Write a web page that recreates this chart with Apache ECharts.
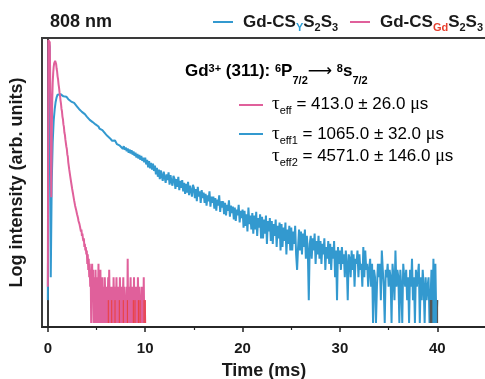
<!DOCTYPE html>
<html><head><meta charset="utf-8">
<script src="https://cdn.jsdelivr.net/npm/echarts@6/dist/echarts.min.js"></script>
<style>html,body{margin:0;padding:0;background:#fff}#c{width:485px;height:379px}</style>
</head><body><div id="c"></div>
<script>
const titleText = '808 nm';
const xTickValues = [0, 10, 20, 30, 40];
const xMinorTickValues = [5, 15, 25, 35];
const seriesNames = ['Gd-CSYS2S3', 'Gd-CSGdS2S3'];

// blue: Gd-CS_Y S2S3, bins of 0.1 ms from 0 ms
const blueStart = 0, blueStep = 0.1;
const blueCounts = [
2,4800,4300,4,70,240,460,640,810,930,
1010,1060,1045,1025,990,1010,960,975,935,950,
905,880,850,870,820,800,815,785,760,775,
705,690,655,645,620,600,610,575,560,545,
520,505,490,470,478,450,440,428,445,410,
400,395,385,362,378,350,345,330,340,310,
310,290,300,275,268,278,250,265,240,252,
242,225,218,238,215,205,220,196,212,190,
204,182,198,174,192,170,188,164,180,158,
174,150,168,146,162,140,158,136,150,130,
150,122,140,112,135,108,128,104,125,100,
118,90,110,84,104,78,102,86,74,98,
94,70,90,76,96,66,88,72,64,86,
80,58,78,62,84,56,74,60,76,54,
70,50,68,52,72,48,64,55,46,66,
60,44,58,40,62,46,54,38,56,44,
52,38,50,35,48,40,54,34,46,38,
46,32,44,30,42,35,48,29,40,33,
40,27,38,26,36,30,41,25,35,28,
34,23,33,22,31,26,36,21,30,24,
31,18,30,19,27,16,33,20,26,17,
28,15,26,17,29,14,24,18,27,13,
25,13,23,15,26,11,22,16,24,12,
22,11,20,14,23,10,19,13,21,9,
20,10,18,12,21,8,17,11,19,9,
18,9,16,11,19,8,5,10,17,9,
16,8,15,10,17,7,14,9,2,11,
14,7,13,9,15,6,12,8,14,7,
12,6,11,8,13,5,10,7,12,6,
11,5,10,7,12,4,9,2,10,6,
9,5,10,6,8,4,9,6,2,8,
7,4,9,5,8,3,7,6,9,4,
8,5,6,3,10,4,9,5,6,3,
5,7,3,6,1,5,4,1,3,6,
4,6,2,9,5,3,1,5,4,6,
3,5,4,1,6,4,2,9,3,5,
4,1,5,3,1,6,4,3,5,2,
4,1,5,3,7,2,4,1,5,3,
3,6,1,4,2,5,3,1,4,2,
3,4,1,2,5,1,7,1,6,1,
2
];

// pink: Gd-CS_Gd S2S3, bins of 0.05 ms from 0 ms
const pinkStart = 0, pinkStep = 0.05;
const pinkCounts = [
3,5300,5250,5050,4950,4800,350,45,280,850,
1450,1950,2350,2600,2720,2820,2780,2560,2230,2040,
1760,1600,1380,1250,1080,980,850,770,660,610,
520,480,410,380,320,300,260,245,210,195,
165,155,130,124,104,100,85,82,70,68,
58,56,49,47,41,40,35,36,31,30,
27,26,24,22,23,20,19,20,16,17,
14,15,13,12,13,10,11,9,10,8,
9,6,8,5,7,4,6,3,5,1,
4,6,2,5,1,3,4,1,5,2,
3,1,4,2,6,1,3,2,5,1,
3,2,4,1,3,2,1,4,2,3,
1,3,1,2,4,1,5,2,1,3,
2,1,3,2,1,4,2,1,3,1,
2,4,1,2,3,1,2,1,4,2,
1,3,2,1,2,4,1,3,1,2,
1,2,3,1,7,1,2,3,1,2,
4,1,2,1,3,2,1,4,1,2,
1,3,1,2,1,4,2,1,3,1,
2,1,2,3,1,2,1,4,1,2,
1
];

// thin extra traces visible at the noise floor
const redLineTimes = [6.21, 6.56, 6.9, 7.34, 7.75, 8.17, 8.78, 8.95, 9.3, 9.47, 9.88, 10.0];
const redLineCounts = [2, 1];
const grayLineTimes = [39.28, 39.33, 39.38, 39.43, 40.02];
const grayLineCounts = [2, 1];

const BLUE = '#3399cf', PINK = '#e0609b', RED = '#ea3f3a', GRAY = '#555555';
const FONT = '"Liberation Sans", Arial, Helvetica, sans-serif';
const SERIF = '"Liberation Serif", "Times New Roman", serif';
const INK = '#1a1a1a';

function binSeries(start, step, counts) {
  return counts.map((c, i) => [+(start + i * step).toFixed(3), c]);
}
function vLines(times, counts) {
  const d = [];
  times.forEach(t => { d.push([t, counts[0]]); d.push([t, counts[1]]); d.push([t, '-']); });
  return d;
}

const chart = echarts.init(document.getElementById('c'), null, {renderer: 'canvas'});

// small scripts: verticalAlign top + padding-top sets their centre = lineTop + pad + 5.5
function small(pad, color, bold) {
  return {fontSize: 11, fontWeight: bold ? 'bold' : 'normal', fontFamily: FONT, color: color || INK,
    lineHeight: 10, verticalAlign: 'top', padding: [pad, 0, 0, 0]};
}

const legRich = {
  f: {fontSize: 17, fontWeight: 'bold', fontFamily: FONT, color: INK, lineHeight: 30, padding: [0, 0, 0, 5]},
  m: {fontSize: 17, fontWeight: 'bold', fontFamily: FONT, color: INK, lineHeight: 30},
  s: small(15, INK, true),
  y: small(15, '#2a9fd8', true),
  g: small(15, '#e8402f', true)
};
const legLabels = {
  'Gd-CSYS2S3': '{f|Gd-CS}{y|Y}{m|S}{s|2}{m|S}{s|3}',
  'Gd-CSGdS2S3': '{f|Gd-CS}{g|Gd}{m|S}{s|2}{m|S}{s|3}'
};

const gdRich = {
  b: {fontSize: 17, fontWeight: 'bold', fontFamily: FONT, color: INK, lineHeight: 30},
  sup: small(7, INK, true),
  sub: small(19.5, INK, true),
  ar: {fontSize: 17, fontFamily: '"DejaVu Sans", sans-serif', color: INK, lineHeight: 30}
};
const tauRich = {
  t: {fontSize: 19, fontFamily: SERIF, color: INK, lineHeight: 30},
  e: small(16.5, INK, false),
  r: {fontSize: 17, fontFamily: FONT, color: INK, lineHeight: 30},
  mu: {fontSize: 18, fontFamily: SERIF, color: INK, lineHeight: 30}
};

const legendBase = {
  top: 7, padding: 0, itemWidth: 20, itemHeight: 2, icon: 'rect',
  formatter: n => legLabels[n],
  textStyle: {rich: legRich}, selectedMode: false
};

chart.setOption({
  animation: false,
  backgroundColor: '#fff',
  title: {text: titleText, left: 50, top: 13, padding: 0,
    textStyle: {fontSize: 18, fontWeight: 'bold', fontFamily: FONT, color: INK}},
  legend: [
    Object.assign({}, legendBase, {left: 213, data: [seriesNames[0]]}),
    Object.assign({}, legendBase, {left: 350, data: [seriesNames[1]]})
  ],
  grid: {left: 42, top: 38, width: 444, height: 289, show: true, borderColor: '#3a3a3a', borderWidth: 2,
    containLabel: false, outerBoundsMode: 'none'},
  xAxis: [{
    type: 'value', min: -0.6, max: 45, position: 'bottom',
    axisLine: {show: true, lineStyle: {color: '#222', width: 1.5}},
    axisTick: {show: true, customValues: xTickValues, length: 5, lineStyle: {color: '#222', width: 1.5}},
    axisLabel: {show: true, customValues: xTickValues, fontSize: 15, fontWeight: 'bold', fontFamily: FONT, color: INK, margin: 14},
    splitLine: {show: false},
    name: 'Time (ms)', nameLocation: 'middle', nameGap: 35,
    nameTextStyle: {fontSize: 18, fontWeight: 'bold', fontFamily: FONT, color: INK}
  }, {
    type: 'value', min: -0.6, max: 45, position: 'bottom',
    axisLine: {show: false},
    axisTick: {show: true, customValues: xMinorTickValues, length: 3, lineStyle: {color: '#222', width: 1.2}},
    axisLabel: {show: false},
    splitLine: {show: false}
  }],
  yAxis: {
    type: 'log', logBase: 10, min: 0.886, max: 5620,
    axisLine: {show: true, lineStyle: {color: '#3a3a3a', width: 2}},
    axisTick: {show: false}, axisLabel: {show: false}, splitLine: {show: false}, minorTick: {show: false},
    name: 'Log intensity (arb. units)', nameLocation: 'middle', nameGap: 16,
    nameTextStyle: {fontSize: 18, fontWeight: 'bold', fontFamily: FONT, color: INK}
  },
  series: [
    {name: seriesNames[0], type: 'line', xAxisIndex: 0, showSymbol: false, symbol: 'none',
      data: binSeries(blueStart, blueStep, blueCounts), color: BLUE,
      lineStyle: {color: BLUE, width: 2}, z: 2},
    {name: seriesNames[1], type: 'line', xAxisIndex: 0, showSymbol: false, symbol: 'none',
      data: binSeries(pinkStart, pinkStep, pinkCounts), color: PINK,
      lineStyle: {color: PINK, width: 2}, z: 3},
    {name: 'floor-red', type: 'line', xAxisIndex: 0, showSymbol: false, symbol: 'none',
      data: vLines(redLineTimes, redLineCounts), color: RED, connectNulls: false,
      lineStyle: {color: RED, width: 1}, z: 4},
    {name: 'floor-gray', type: 'line', xAxisIndex: 0, showSymbol: false, symbol: 'none',
      data: vLines(grayLineTimes, grayLineCounts), color: GRAY, connectNulls: false,
      lineStyle: {color: GRAY, width: 1.2}, z: 4}
  ],
  graphic: [
    {type: 'text', x: 185, y: 56.4, z: 10, style: {
      text: '{b|Gd}{sup|3+}{b| (311): }{sup|6}{b|P}{sub|7/2}{ar|⟶}{b| }{sup|8}{b|s}{sub|7/2}',
      rich: gdRich, align: 'left', verticalAlign: 'top'}},
    {type: 'line', z: 10, shape: {x1: 239, y1: 105, x2: 263, y2: 105}, style: {stroke: PINK, lineWidth: 2}},
    {type: 'text', x: 272, y: 89, z: 10, style: {
      text: '{t|τ}{e|eff}{r| = 413.0 ± 26.0 }{mu|μ}{r|s}', rich: tauRich, align: 'left', verticalAlign: 'top'}},
    {type: 'line', z: 10, shape: {x1: 239, y1: 134, x2: 263, y2: 134}, style: {stroke: BLUE, lineWidth: 2}},
    {type: 'text', x: 272, y: 119, z: 10, style: {
      text: '{t|τ}{e|eff1}{r| = 1065.0 ± 32.0 }{mu|μ}{r|s}', rich: tauRich, align: 'left', verticalAlign: 'top'}},
    {type: 'text', x: 272, y: 141, z: 10, style: {
      text: '{t|τ}{e|eff2}{r| = 4571.0 ± 146.0 }{mu|μ}{r|s}', rich: tauRich, align: 'left', verticalAlign: 'top'}}
  ]
});
</script></body></html>
